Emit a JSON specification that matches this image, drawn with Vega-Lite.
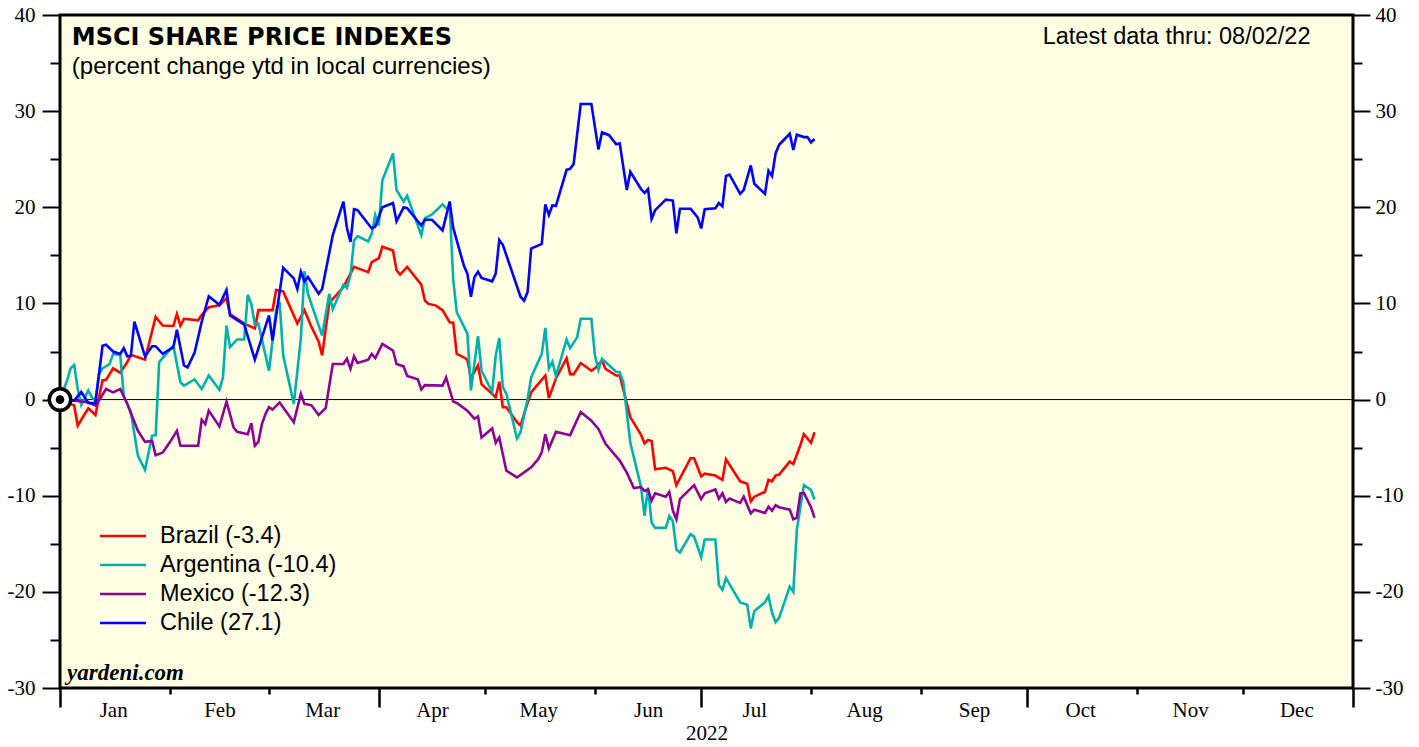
{
"$schema": "https://vega.github.io/schema/vega-lite/v6.json",
"width": 1293, "height": 673,
"autosize": {"type": "none"},
"padding": {"left": 60, "top": 15, "right": 66, "bottom": 59},
"background": "white",
"config": {"view": {"fill": "#FFFFE3", "stroke": "black", "strokeWidth": 3}, "font": "Liberation Sans", "axis": {"labelFlush": false, "labelOverlap": false, "labelBound": false, "grid": false, "domain": false}},
"datasets": {
"series": [
{"country":"Brazil (-3.4)","date":"2022-01-01","value":0},
{"country":"Brazil (-3.4)","date":"2022-01-05","value":-0.6},
{"country":"Brazil (-3.4)","date":"2022-01-06","value":-2.7},
{"country":"Brazil (-3.4)","date":"2022-01-09","value":-0.9},
{"country":"Brazil (-3.4)","date":"2022-01-11","value":-1.6},
{"country":"Brazil (-3.4)","date":"2022-01-13","value":2.0},
{"country":"Brazil (-3.4)","date":"2022-01-14","value":2.05},
{"country":"Brazil (-3.4)","date":"2022-01-16","value":3.25},
{"country":"Brazil (-3.4)","date":"2022-01-18","value":2.8},
{"country":"Brazil (-3.4)","date":"2022-01-20","value":3.9},
{"country":"Brazil (-3.4)","date":"2022-01-21","value":4.65},
{"country":"Brazil (-3.4)","date":"2022-01-25","value":4.15},
{"country":"Brazil (-3.4)","date":"2022-01-28","value":8.6},
{"country":"Brazil (-3.4)","date":"2022-01-30","value":7.7},
{"country":"Brazil (-3.4)","date":"2022-02-02","value":7.65},
{"country":"Brazil (-3.4)","date":"2022-02-03","value":8.9},
{"country":"Brazil (-3.4)","date":"2022-02-04","value":7.7},
{"country":"Brazil (-3.4)","date":"2022-02-05","value":8.4},
{"country":"Brazil (-3.4)","date":"2022-02-09","value":8.25},
{"country":"Brazil (-3.4)","date":"2022-02-10","value":8.8},
{"country":"Brazil (-3.4)","date":"2022-02-12","value":9.6},
{"country":"Brazil (-3.4)","date":"2022-02-15","value":9.8},
{"country":"Brazil (-3.4)","date":"2022-02-17","value":10.55},
{"country":"Brazil (-3.4)","date":"2022-02-18","value":8.9},
{"country":"Brazil (-3.4)","date":"2022-02-22","value":7.9},
{"country":"Brazil (-3.4)","date":"2022-02-25","value":7.4},
{"country":"Brazil (-3.4)","date":"2022-02-26","value":9.3},
{"country":"Brazil (-3.4)","date":"2022-03-02","value":9.3},
{"country":"Brazil (-3.4)","date":"2022-03-03","value":11.4},
{"country":"Brazil (-3.4)","date":"2022-03-05","value":11.25},
{"country":"Brazil (-3.4)","date":"2022-03-09","value":7.9},
{"country":"Brazil (-3.4)","date":"2022-03-11","value":9.3},
{"country":"Brazil (-3.4)","date":"2022-03-13","value":7.55},
{"country":"Brazil (-3.4)","date":"2022-03-15","value":6.05},
{"country":"Brazil (-3.4)","date":"2022-03-16","value":4.6},
{"country":"Brazil (-3.4)","date":"2022-03-18","value":10.05},
{"country":"Brazil (-3.4)","date":"2022-03-22","value":11.7},
{"country":"Brazil (-3.4)","date":"2022-03-23","value":12.4},
{"country":"Brazil (-3.4)","date":"2022-03-25","value":13.8},
{"country":"Brazil (-3.4)","date":"2022-03-29","value":13.25},
{"country":"Brazil (-3.4)","date":"2022-03-30","value":14.3},
{"country":"Brazil (-3.4)","date":"2022-04-01","value":14.7},
{"country":"Brazil (-3.4)","date":"2022-04-02","value":15.9},
{"country":"Brazil (-3.4)","date":"2022-04-05","value":15.5},
{"country":"Brazil (-3.4)","date":"2022-04-06","value":13.45},
{"country":"Brazil (-3.4)","date":"2022-04-07","value":13.0},
{"country":"Brazil (-3.4)","date":"2022-04-09","value":13.8},
{"country":"Brazil (-3.4)","date":"2022-04-13","value":11.95},
{"country":"Brazil (-3.4)","date":"2022-04-14","value":10.3},
{"country":"Brazil (-3.4)","date":"2022-04-15","value":9.95},
{"country":"Brazil (-3.4)","date":"2022-04-17","value":9.8},
{"country":"Brazil (-3.4)","date":"2022-04-19","value":9.3},
{"country":"Brazil (-3.4)","date":"2022-04-21","value":8.05},
{"country":"Brazil (-3.4)","date":"2022-04-22","value":8.0},
{"country":"Brazil (-3.4)","date":"2022-04-23","value":4.75},
{"country":"Brazil (-3.4)","date":"2022-04-25","value":4.4},
{"country":"Brazil (-3.4)","date":"2022-04-26","value":4.15},
{"country":"Brazil (-3.4)","date":"2022-04-27","value":2.2},
{"country":"Brazil (-3.4)","date":"2022-04-29","value":3.55},
{"country":"Brazil (-3.4)","date":"2022-04-30","value":1.6},
{"country":"Brazil (-3.4)","date":"2022-05-04","value":0.25},
{"country":"Brazil (-3.4)","date":"2022-05-05","value":1.85},
{"country":"Brazil (-3.4)","date":"2022-05-06","value":-0.8},
{"country":"Brazil (-3.4)","date":"2022-05-07","value":-0.8},
{"country":"Brazil (-3.4)","date":"2022-05-10","value":-2.35},
{"country":"Brazil (-3.4)","date":"2022-05-11","value":-2.7},
{"country":"Brazil (-3.4)","date":"2022-05-12","value":-1.5},
{"country":"Brazil (-3.4)","date":"2022-05-14","value":0.75},
{"country":"Brazil (-3.4)","date":"2022-05-18","value":2.5},
{"country":"Brazil (-3.4)","date":"2022-05-19","value":0.15},
{"country":"Brazil (-3.4)","date":"2022-05-21","value":2.2},
{"country":"Brazil (-3.4)","date":"2022-05-24","value":4.3},
{"country":"Brazil (-3.4)","date":"2022-05-25","value":2.65},
{"country":"Brazil (-3.4)","date":"2022-05-26","value":2.65},
{"country":"Brazil (-3.4)","date":"2022-05-28","value":3.8},
{"country":"Brazil (-3.4)","date":"2022-05-31","value":3.0},
{"country":"Brazil (-3.4)","date":"2022-06-01","value":3.25},
{"country":"Brazil (-3.4)","date":"2022-06-03","value":4.05},
{"country":"Brazil (-3.4)","date":"2022-06-04","value":3.2},
{"country":"Brazil (-3.4)","date":"2022-06-07","value":2.5},
{"country":"Brazil (-3.4)","date":"2022-06-08","value":2.5},
{"country":"Brazil (-3.4)","date":"2022-06-11","value":-1.85},
{"country":"Brazil (-3.4)","date":"2022-06-14","value":-3.65},
{"country":"Brazil (-3.4)","date":"2022-06-15","value":-4.55},
{"country":"Brazil (-3.4)","date":"2022-06-16","value":-4.2},
{"country":"Brazil (-3.4)","date":"2022-06-17","value":-4.3},
{"country":"Brazil (-3.4)","date":"2022-06-18","value":-7.25},
{"country":"Brazil (-3.4)","date":"2022-06-21","value":-7.1},
{"country":"Brazil (-3.4)","date":"2022-06-23","value":-7.45},
{"country":"Brazil (-3.4)","date":"2022-06-24","value":-8.9},
{"country":"Brazil (-3.4)","date":"2022-06-28","value":-6.1},
{"country":"Brazil (-3.4)","date":"2022-06-29","value":-6.1},
{"country":"Brazil (-3.4)","date":"2022-07-01","value":-8.0},
{"country":"Brazil (-3.4)","date":"2022-07-02","value":-7.7},
{"country":"Brazil (-3.4)","date":"2022-07-05","value":-7.9},
{"country":"Brazil (-3.4)","date":"2022-07-07","value":-8.35},
{"country":"Brazil (-3.4)","date":"2022-07-08","value":-6.2},
{"country":"Brazil (-3.4)","date":"2022-07-12","value":-8.5},
{"country":"Brazil (-3.4)","date":"2022-07-14","value":-8.75},
{"country":"Brazil (-3.4)","date":"2022-07-15","value":-10.6},
{"country":"Brazil (-3.4)","date":"2022-07-16","value":-10.1},
{"country":"Brazil (-3.4)","date":"2022-07-19","value":-9.6},
{"country":"Brazil (-3.4)","date":"2022-07-20","value":-8.35},
{"country":"Brazil (-3.4)","date":"2022-07-21","value":-8.5},
{"country":"Brazil (-3.4)","date":"2022-07-22","value":-7.9},
{"country":"Brazil (-3.4)","date":"2022-07-23","value":-7.8},
{"country":"Brazil (-3.4)","date":"2022-07-26","value":-6.45},
{"country":"Brazil (-3.4)","date":"2022-07-27","value":-6.7},
{"country":"Brazil (-3.4)","date":"2022-07-29","value":-4.75},
{"country":"Brazil (-3.4)","date":"2022-07-30","value":-3.6},
{"country":"Brazil (-3.4)","date":"2022-08-01","value":-4.5},
{"country":"Brazil (-3.4)","date":"2022-08-02","value":-3.4},
{"country":"Argentina (-10.4)","date":"2022-01-01","value":0},
{"country":"Argentina (-10.4)","date":"2022-01-03","value":2.0},
{"country":"Argentina (-10.4)","date":"2022-01-04","value":3.25},
{"country":"Argentina (-10.4)","date":"2022-01-05","value":3.6},
{"country":"Argentina (-10.4)","date":"2022-01-06","value":1.1},
{"country":"Argentina (-10.4)","date":"2022-01-07","value":-0.55},
{"country":"Argentina (-10.4)","date":"2022-01-09","value":0.95},
{"country":"Argentina (-10.4)","date":"2022-01-10","value":0.25},
{"country":"Argentina (-10.4)","date":"2022-01-11","value":-0.1},
{"country":"Argentina (-10.4)","date":"2022-01-12","value":2.65},
{"country":"Argentina (-10.4)","date":"2022-01-13","value":3.25},
{"country":"Argentina (-10.4)","date":"2022-01-15","value":3.7},
{"country":"Argentina (-10.4)","date":"2022-01-16","value":4.75},
{"country":"Argentina (-10.4)","date":"2022-01-18","value":4.65},
{"country":"Argentina (-10.4)","date":"2022-01-19","value":0.4},
{"country":"Argentina (-10.4)","date":"2022-01-21","value":-1.3},
{"country":"Argentina (-10.4)","date":"2022-01-23","value":-5.85},
{"country":"Argentina (-10.4)","date":"2022-01-25","value":-7.3},
{"country":"Argentina (-10.4)","date":"2022-01-27","value":-3.75},
{"country":"Argentina (-10.4)","date":"2022-01-28","value":-3.7},
{"country":"Argentina (-10.4)","date":"2022-01-29","value":3.9},
{"country":"Argentina (-10.4)","date":"2022-02-02","value":5.6},
{"country":"Argentina (-10.4)","date":"2022-02-04","value":1.8},
{"country":"Argentina (-10.4)","date":"2022-02-05","value":1.45},
{"country":"Argentina (-10.4)","date":"2022-02-08","value":2.1},
{"country":"Argentina (-10.4)","date":"2022-02-10","value":1.1},
{"country":"Argentina (-10.4)","date":"2022-02-12","value":2.5},
{"country":"Argentina (-10.4)","date":"2022-02-15","value":1.0},
{"country":"Argentina (-10.4)","date":"2022-02-16","value":2.3},
{"country":"Argentina (-10.4)","date":"2022-02-17","value":7.7},
{"country":"Argentina (-10.4)","date":"2022-02-18","value":5.45},
{"country":"Argentina (-10.4)","date":"2022-02-20","value":6.25},
{"country":"Argentina (-10.4)","date":"2022-02-22","value":6.25},
{"country":"Argentina (-10.4)","date":"2022-02-23","value":10.9},
{"country":"Argentina (-10.4)","date":"2022-02-24","value":9.95},
{"country":"Argentina (-10.4)","date":"2022-02-25","value":7.8},
{"country":"Argentina (-10.4)","date":"2022-02-26","value":7.9},
{"country":"Argentina (-10.4)","date":"2022-03-01","value":3.0},
{"country":"Argentina (-10.4)","date":"2022-03-03","value":9.3},
{"country":"Argentina (-10.4)","date":"2022-03-04","value":10.15},
{"country":"Argentina (-10.4)","date":"2022-03-05","value":4.6},
{"country":"Argentina (-10.4)","date":"2022-03-08","value":-0.45},
{"country":"Argentina (-10.4)","date":"2022-03-10","value":6.4},
{"country":"Argentina (-10.4)","date":"2022-03-11","value":13.35},
{"country":"Argentina (-10.4)","date":"2022-03-12","value":11.0},
{"country":"Argentina (-10.4)","date":"2022-03-16","value":6.65},
{"country":"Argentina (-10.4)","date":"2022-03-18","value":11.0},
{"country":"Argentina (-10.4)","date":"2022-03-19","value":9.4},
{"country":"Argentina (-10.4)","date":"2022-03-22","value":11.95},
{"country":"Argentina (-10.4)","date":"2022-03-23","value":11.6},
{"country":"Argentina (-10.4)","date":"2022-03-24","value":12.9},
{"country":"Argentina (-10.4)","date":"2022-03-25","value":16.55},
{"country":"Argentina (-10.4)","date":"2022-03-26","value":17.0},
{"country":"Argentina (-10.4)","date":"2022-03-29","value":16.45},
{"country":"Argentina (-10.4)","date":"2022-03-30","value":17.25},
{"country":"Argentina (-10.4)","date":"2022-03-31","value":19.2},
{"country":"Argentina (-10.4)","date":"2022-04-01","value":18.1},
{"country":"Argentina (-10.4)","date":"2022-04-02","value":22.8},
{"country":"Argentina (-10.4)","date":"2022-04-05","value":25.6},
{"country":"Argentina (-10.4)","date":"2022-04-06","value":21.8},
{"country":"Argentina (-10.4)","date":"2022-04-08","value":20.6},
{"country":"Argentina (-10.4)","date":"2022-04-09","value":21.2},
{"country":"Argentina (-10.4)","date":"2022-04-13","value":17.1},
{"country":"Argentina (-10.4)","date":"2022-04-14","value":18.85},
{"country":"Argentina (-10.4)","date":"2022-04-16","value":19.25},
{"country":"Argentina (-10.4)","date":"2022-04-19","value":20.3},
{"country":"Argentina (-10.4)","date":"2022-04-20","value":19.9},
{"country":"Argentina (-10.4)","date":"2022-04-21","value":20.05},
{"country":"Argentina (-10.4)","date":"2022-04-22","value":12.5},
{"country":"Argentina (-10.4)","date":"2022-04-23","value":9.1},
{"country":"Argentina (-10.4)","date":"2022-04-26","value":6.85},
{"country":"Argentina (-10.4)","date":"2022-04-27","value":0.95},
{"country":"Argentina (-10.4)","date":"2022-04-29","value":6.6},
{"country":"Argentina (-10.4)","date":"2022-04-30","value":3.0},
{"country":"Argentina (-10.4)","date":"2022-05-03","value":0.8},
{"country":"Argentina (-10.4)","date":"2022-05-04","value":4.6},
{"country":"Argentina (-10.4)","date":"2022-05-05","value":6.4},
{"country":"Argentina (-10.4)","date":"2022-05-06","value":1.3},
{"country":"Argentina (-10.4)","date":"2022-05-07","value":0.6},
{"country":"Argentina (-10.4)","date":"2022-05-10","value":-4.05},
{"country":"Argentina (-10.4)","date":"2022-05-11","value":-3.4},
{"country":"Argentina (-10.4)","date":"2022-05-13","value":0.05},
{"country":"Argentina (-10.4)","date":"2022-05-14","value":2.3},
{"country":"Argentina (-10.4)","date":"2022-05-17","value":4.75},
{"country":"Argentina (-10.4)","date":"2022-05-18","value":7.45},
{"country":"Argentina (-10.4)","date":"2022-05-19","value":3.25},
{"country":"Argentina (-10.4)","date":"2022-05-20","value":3.95},
{"country":"Argentina (-10.4)","date":"2022-05-21","value":2.45},
{"country":"Argentina (-10.4)","date":"2022-05-24","value":6.25},
{"country":"Argentina (-10.4)","date":"2022-05-25","value":5.35},
{"country":"Argentina (-10.4)","date":"2022-05-27","value":6.5},
{"country":"Argentina (-10.4)","date":"2022-05-28","value":8.4},
{"country":"Argentina (-10.4)","date":"2022-05-31","value":8.4},
{"country":"Argentina (-10.4)","date":"2022-06-01","value":4.6},
{"country":"Argentina (-10.4)","date":"2022-06-02","value":3.1},
{"country":"Argentina (-10.4)","date":"2022-06-03","value":4.25},
{"country":"Argentina (-10.4)","date":"2022-06-07","value":2.9},
{"country":"Argentina (-10.4)","date":"2022-06-08","value":2.85},
{"country":"Argentina (-10.4)","date":"2022-06-09","value":1.85},
{"country":"Argentina (-10.4)","date":"2022-06-11","value":-4.5},
{"country":"Argentina (-10.4)","date":"2022-06-14","value":-9.05},
{"country":"Argentina (-10.4)","date":"2022-06-15","value":-12.1},
{"country":"Argentina (-10.4)","date":"2022-06-16","value":-9.15},
{"country":"Argentina (-10.4)","date":"2022-06-17","value":-12.8},
{"country":"Argentina (-10.4)","date":"2022-06-18","value":-13.35},
{"country":"Argentina (-10.4)","date":"2022-06-21","value":-13.35},
{"country":"Argentina (-10.4)","date":"2022-06-22","value":-12.1},
{"country":"Argentina (-10.4)","date":"2022-06-23","value":-12.65},
{"country":"Argentina (-10.4)","date":"2022-06-24","value":-15.6},
{"country":"Argentina (-10.4)","date":"2022-06-25","value":-15.9},
{"country":"Argentina (-10.4)","date":"2022-06-28","value":-14.0},
{"country":"Argentina (-10.4)","date":"2022-06-29","value":-14.25},
{"country":"Argentina (-10.4)","date":"2022-07-01","value":-16.4},
{"country":"Argentina (-10.4)","date":"2022-07-02","value":-14.55},
{"country":"Argentina (-10.4)","date":"2022-07-05","value":-14.55},
{"country":"Argentina (-10.4)","date":"2022-07-06","value":-19.3},
{"country":"Argentina (-10.4)","date":"2022-07-07","value":-19.8},
{"country":"Argentina (-10.4)","date":"2022-07-08","value":-18.55},
{"country":"Argentina (-10.4)","date":"2022-07-12","value":-21.1},
{"country":"Argentina (-10.4)","date":"2022-07-14","value":-21.35},
{"country":"Argentina (-10.4)","date":"2022-07-15","value":-23.8},
{"country":"Argentina (-10.4)","date":"2022-07-16","value":-22.0},
{"country":"Argentina (-10.4)","date":"2022-07-19","value":-21.1},
{"country":"Argentina (-10.4)","date":"2022-07-20","value":-20.45},
{"country":"Argentina (-10.4)","date":"2022-07-21","value":-22.15},
{"country":"Argentina (-10.4)","date":"2022-07-22","value":-23.15},
{"country":"Argentina (-10.4)","date":"2022-07-23","value":-22.7},
{"country":"Argentina (-10.4)","date":"2022-07-26","value":-19.45},
{"country":"Argentina (-10.4)","date":"2022-07-27","value":-20.0},
{"country":"Argentina (-10.4)","date":"2022-07-28","value":-13.55},
{"country":"Argentina (-10.4)","date":"2022-07-30","value":-8.9},
{"country":"Argentina (-10.4)","date":"2022-08-01","value":-9.4},
{"country":"Argentina (-10.4)","date":"2022-08-02","value":-10.4},
{"country":"Mexico (-12.3)","date":"2022-01-01","value":0},
{"country":"Mexico (-12.3)","date":"2022-01-05","value":-0.1},
{"country":"Mexico (-12.3)","date":"2022-01-09","value":-0.3},
{"country":"Mexico (-12.3)","date":"2022-01-11","value":-0.6},
{"country":"Mexico (-12.3)","date":"2022-01-12","value":-0.1},
{"country":"Mexico (-12.3)","date":"2022-01-14","value":1.1},
{"country":"Mexico (-12.3)","date":"2022-01-16","value":0.75},
{"country":"Mexico (-12.3)","date":"2022-01-18","value":1.1},
{"country":"Mexico (-12.3)","date":"2022-01-20","value":-0.45},
{"country":"Mexico (-12.3)","date":"2022-01-21","value":-1.4},
{"country":"Mexico (-12.3)","date":"2022-01-23","value":-3.25},
{"country":"Mexico (-12.3)","date":"2022-01-25","value":-4.4},
{"country":"Mexico (-12.3)","date":"2022-01-27","value":-4.3},
{"country":"Mexico (-12.3)","date":"2022-01-28","value":-5.8},
{"country":"Mexico (-12.3)","date":"2022-01-30","value":-5.5},
{"country":"Mexico (-12.3)","date":"2022-02-01","value":-4.45},
{"country":"Mexico (-12.3)","date":"2022-02-03","value":-3.25},
{"country":"Mexico (-12.3)","date":"2022-02-04","value":-4.8},
{"country":"Mexico (-12.3)","date":"2022-02-09","value":-4.8},
{"country":"Mexico (-12.3)","date":"2022-02-10","value":-2.1},
{"country":"Mexico (-12.3)","date":"2022-02-11","value":-2.55},
{"country":"Mexico (-12.3)","date":"2022-02-12","value":-1.15},
{"country":"Mexico (-12.3)","date":"2022-02-15","value":-2.8},
{"country":"Mexico (-12.3)","date":"2022-02-17","value":-0.2},
{"country":"Mexico (-12.3)","date":"2022-02-19","value":-2.9},
{"country":"Mexico (-12.3)","date":"2022-02-20","value":-3.35},
{"country":"Mexico (-12.3)","date":"2022-02-23","value":-3.6},
{"country":"Mexico (-12.3)","date":"2022-02-24","value":-2.45},
{"country":"Mexico (-12.3)","date":"2022-02-25","value":-4.8},
{"country":"Mexico (-12.3)","date":"2022-02-26","value":-4.4},
{"country":"Mexico (-12.3)","date":"2022-02-27","value":-2.55},
{"country":"Mexico (-12.3)","date":"2022-02-28","value":-1.5},
{"country":"Mexico (-12.3)","date":"2022-03-01","value":-0.8},
{"country":"Mexico (-12.3)","date":"2022-03-02","value":-1.05},
{"country":"Mexico (-12.3)","date":"2022-03-04","value":-0.3},
{"country":"Mexico (-12.3)","date":"2022-03-08","value":-2.35},
{"country":"Mexico (-12.3)","date":"2022-03-10","value":0.6},
{"country":"Mexico (-12.3)","date":"2022-03-11","value":-0.45},
{"country":"Mexico (-12.3)","date":"2022-03-13","value":-0.6},
{"country":"Mexico (-12.3)","date":"2022-03-15","value":-1.6},
{"country":"Mexico (-12.3)","date":"2022-03-17","value":-0.9},
{"country":"Mexico (-12.3)","date":"2022-03-19","value":3.7},
{"country":"Mexico (-12.3)","date":"2022-03-22","value":3.7},
{"country":"Mexico (-12.3)","date":"2022-03-23","value":4.25},
{"country":"Mexico (-12.3)","date":"2022-03-24","value":3.2},
{"country":"Mexico (-12.3)","date":"2022-03-25","value":4.5},
{"country":"Mexico (-12.3)","date":"2022-03-26","value":3.8},
{"country":"Mexico (-12.3)","date":"2022-03-29","value":4.15},
{"country":"Mexico (-12.3)","date":"2022-03-30","value":4.75},
{"country":"Mexico (-12.3)","date":"2022-03-31","value":4.3},
{"country":"Mexico (-12.3)","date":"2022-04-02","value":5.8},
{"country":"Mexico (-12.3)","date":"2022-04-05","value":5.1},
{"country":"Mexico (-12.3)","date":"2022-04-06","value":3.7},
{"country":"Mexico (-12.3)","date":"2022-04-08","value":3.45},
{"country":"Mexico (-12.3)","date":"2022-04-09","value":2.45},
{"country":"Mexico (-12.3)","date":"2022-04-12","value":2.1},
{"country":"Mexico (-12.3)","date":"2022-04-13","value":1.05},
{"country":"Mexico (-12.3)","date":"2022-04-14","value":1.5},
{"country":"Mexico (-12.3)","date":"2022-04-19","value":1.45},
{"country":"Mexico (-12.3)","date":"2022-04-20","value":2.3},
{"country":"Mexico (-12.3)","date":"2022-04-22","value":-0.2},
{"country":"Mexico (-12.3)","date":"2022-04-23","value":-0.35},
{"country":"Mexico (-12.3)","date":"2022-04-26","value":-1.15},
{"country":"Mexico (-12.3)","date":"2022-04-28","value":-2.0},
{"country":"Mexico (-12.3)","date":"2022-04-29","value":-1.75},
{"country":"Mexico (-12.3)","date":"2022-04-30","value":-3.95},
{"country":"Mexico (-12.3)","date":"2022-05-03","value":-3.0},
{"country":"Mexico (-12.3)","date":"2022-05-04","value":-4.5},
{"country":"Mexico (-12.3)","date":"2022-05-05","value":-3.95},
{"country":"Mexico (-12.3)","date":"2022-05-07","value":-7.4},
{"country":"Mexico (-12.3)","date":"2022-05-10","value":-8.1},
{"country":"Mexico (-12.3)","date":"2022-05-14","value":-7.05},
{"country":"Mexico (-12.3)","date":"2022-05-16","value":-6.2},
{"country":"Mexico (-12.3)","date":"2022-05-17","value":-5.45},
{"country":"Mexico (-12.3)","date":"2022-05-18","value":-3.6},
{"country":"Mexico (-12.3)","date":"2022-05-19","value":-5.1},
{"country":"Mexico (-12.3)","date":"2022-05-21","value":-3.35},
{"country":"Mexico (-12.3)","date":"2022-05-25","value":-3.7},
{"country":"Mexico (-12.3)","date":"2022-05-28","value":-1.3},
{"country":"Mexico (-12.3)","date":"2022-05-31","value":-2.2},
{"country":"Mexico (-12.3)","date":"2022-06-02","value":-3.05},
{"country":"Mexico (-12.3)","date":"2022-06-04","value":-4.6},
{"country":"Mexico (-12.3)","date":"2022-06-08","value":-6.35},
{"country":"Mexico (-12.3)","date":"2022-06-10","value":-7.6},
{"country":"Mexico (-12.3)","date":"2022-06-12","value":-9.2},
{"country":"Mexico (-12.3)","date":"2022-06-14","value":-9.1},
{"country":"Mexico (-12.3)","date":"2022-06-15","value":-9.5},
{"country":"Mexico (-12.3)","date":"2022-06-16","value":-9.35},
{"country":"Mexico (-12.3)","date":"2022-06-17","value":-10.5},
{"country":"Mexico (-12.3)","date":"2022-06-18","value":-9.75},
{"country":"Mexico (-12.3)","date":"2022-06-21","value":-10.1},
{"country":"Mexico (-12.3)","date":"2022-06-22","value":-9.6},
{"country":"Mexico (-12.3)","date":"2022-06-23","value":-11.55},
{"country":"Mexico (-12.3)","date":"2022-06-24","value":-12.45},
{"country":"Mexico (-12.3)","date":"2022-06-25","value":-10.35},
{"country":"Mexico (-12.3)","date":"2022-06-29","value":-8.9},
{"country":"Mexico (-12.3)","date":"2022-07-01","value":-10.35},
{"country":"Mexico (-12.3)","date":"2022-07-02","value":-9.75},
{"country":"Mexico (-12.3)","date":"2022-07-05","value":-9.35},
{"country":"Mexico (-12.3)","date":"2022-07-06","value":-10.3},
{"country":"Mexico (-12.3)","date":"2022-07-07","value":-9.75},
{"country":"Mexico (-12.3)","date":"2022-07-08","value":-10.65},
{"country":"Mexico (-12.3)","date":"2022-07-09","value":-10.3},
{"country":"Mexico (-12.3)","date":"2022-07-12","value":-10.75},
{"country":"Mexico (-12.3)","date":"2022-07-13","value":-10.1},
{"country":"Mexico (-12.3)","date":"2022-07-15","value":-11.85},
{"country":"Mexico (-12.3)","date":"2022-07-16","value":-11.45},
{"country":"Mexico (-12.3)","date":"2022-07-19","value":-11.8},
{"country":"Mexico (-12.3)","date":"2022-07-20","value":-11.15},
{"country":"Mexico (-12.3)","date":"2022-07-21","value":-11.55},
{"country":"Mexico (-12.3)","date":"2022-07-22","value":-11.0},
{"country":"Mexico (-12.3)","date":"2022-07-23","value":-11.2},
{"country":"Mexico (-12.3)","date":"2022-07-26","value":-11.45},
{"country":"Mexico (-12.3)","date":"2022-07-27","value":-12.45},
{"country":"Mexico (-12.3)","date":"2022-07-28","value":-12.3},
{"country":"Mexico (-12.3)","date":"2022-07-29","value":-9.75},
{"country":"Mexico (-12.3)","date":"2022-07-30","value":-9.7},
{"country":"Mexico (-12.3)","date":"2022-08-01","value":-11.2},
{"country":"Mexico (-12.3)","date":"2022-08-02","value":-12.3},
{"country":"Chile (27.1)","date":"2022-01-01","value":0},
{"country":"Chile (27.1)","date":"2022-01-05","value":-0.1},
{"country":"Chile (27.1)","date":"2022-01-07","value":0.8},
{"country":"Chile (27.1)","date":"2022-01-09","value":-0.35},
{"country":"Chile (27.1)","date":"2022-01-11","value":-0.35},
{"country":"Chile (27.1)","date":"2022-01-13","value":5.6},
{"country":"Chile (27.1)","date":"2022-01-14","value":5.7},
{"country":"Chile (27.1)","date":"2022-01-16","value":5.0},
{"country":"Chile (27.1)","date":"2022-01-18","value":4.75},
{"country":"Chile (27.1)","date":"2022-01-19","value":5.35},
{"country":"Chile (27.1)","date":"2022-01-20","value":4.5},
{"country":"Chile (27.1)","date":"2022-01-21","value":4.55},
{"country":"Chile (27.1)","date":"2022-01-22","value":8.1},
{"country":"Chile (27.1)","date":"2022-01-25","value":4.5},
{"country":"Chile (27.1)","date":"2022-01-27","value":5.55},
{"country":"Chile (27.1)","date":"2022-01-28","value":5.55},
{"country":"Chile (27.1)","date":"2022-01-30","value":4.75},
{"country":"Chile (27.1)","date":"2022-02-02","value":5.45},
{"country":"Chile (27.1)","date":"2022-02-03","value":7.25},
{"country":"Chile (27.1)","date":"2022-02-05","value":3.55},
{"country":"Chile (27.1)","date":"2022-02-06","value":3.35},
{"country":"Chile (27.1)","date":"2022-02-08","value":4.9},
{"country":"Chile (27.1)","date":"2022-02-10","value":8.1},
{"country":"Chile (27.1)","date":"2022-02-12","value":10.75},
{"country":"Chile (27.1)","date":"2022-02-15","value":9.85},
{"country":"Chile (27.1)","date":"2022-02-17","value":11.4},
{"country":"Chile (27.1)","date":"2022-02-18","value":8.75},
{"country":"Chile (27.1)","date":"2022-02-22","value":7.8},
{"country":"Chile (27.1)","date":"2022-02-25","value":4.15},
{"country":"Chile (27.1)","date":"2022-03-01","value":8.75},
{"country":"Chile (27.1)","date":"2022-03-02","value":6.15},
{"country":"Chile (27.1)","date":"2022-03-05","value":13.7},
{"country":"Chile (27.1)","date":"2022-03-08","value":12.6},
{"country":"Chile (27.1)","date":"2022-03-09","value":11.5},
{"country":"Chile (27.1)","date":"2022-03-10","value":13.3},
{"country":"Chile (27.1)","date":"2022-03-11","value":12.3},
{"country":"Chile (27.1)","date":"2022-03-12","value":12.75},
{"country":"Chile (27.1)","date":"2022-03-15","value":11.0},
{"country":"Chile (27.1)","date":"2022-03-16","value":11.5},
{"country":"Chile (27.1)","date":"2022-03-19","value":17.1},
{"country":"Chile (27.1)","date":"2022-03-22","value":20.6},
{"country":"Chile (27.1)","date":"2022-03-23","value":17.85},
{"country":"Chile (27.1)","date":"2022-03-24","value":16.4},
{"country":"Chile (27.1)","date":"2022-03-25","value":19.8},
{"country":"Chile (27.1)","date":"2022-03-26","value":19.7},
{"country":"Chile (27.1)","date":"2022-03-30","value":17.8},
{"country":"Chile (27.1)","date":"2022-03-31","value":18.0},
{"country":"Chile (27.1)","date":"2022-04-02","value":20.0},
{"country":"Chile (27.1)","date":"2022-04-05","value":20.45},
{"country":"Chile (27.1)","date":"2022-04-06","value":18.55},
{"country":"Chile (27.1)","date":"2022-04-08","value":20.0},
{"country":"Chile (27.1)","date":"2022-04-09","value":19.9},
{"country":"Chile (27.1)","date":"2022-04-13","value":18.1},
{"country":"Chile (27.1)","date":"2022-04-14","value":18.7},
{"country":"Chile (27.1)","date":"2022-04-16","value":18.7},
{"country":"Chile (27.1)","date":"2022-04-19","value":17.6},
{"country":"Chile (27.1)","date":"2022-04-21","value":20.6},
{"country":"Chile (27.1)","date":"2022-04-22","value":17.85},
{"country":"Chile (27.1)","date":"2022-04-25","value":13.95},
{"country":"Chile (27.1)","date":"2022-04-26","value":13.1},
{"country":"Chile (27.1)","date":"2022-04-27","value":10.7},
{"country":"Chile (27.1)","date":"2022-04-28","value":12.75},
{"country":"Chile (27.1)","date":"2022-04-29","value":13.3},
{"country":"Chile (27.1)","date":"2022-04-30","value":12.65},
{"country":"Chile (27.1)","date":"2022-05-03","value":12.3},
{"country":"Chile (27.1)","date":"2022-05-04","value":13.1},
{"country":"Chile (27.1)","date":"2022-05-05","value":16.6},
{"country":"Chile (27.1)","date":"2022-05-06","value":16.1},
{"country":"Chile (27.1)","date":"2022-05-11","value":10.7},
{"country":"Chile (27.1)","date":"2022-05-12","value":10.3},
{"country":"Chile (27.1)","date":"2022-05-13","value":11.2},
{"country":"Chile (27.1)","date":"2022-05-14","value":15.7},
{"country":"Chile (27.1)","date":"2022-05-17","value":16.2},
{"country":"Chile (27.1)","date":"2022-05-18","value":20.3},
{"country":"Chile (27.1)","date":"2022-05-19","value":19.2},
{"country":"Chile (27.1)","date":"2022-05-20","value":20.2},
{"country":"Chile (27.1)","date":"2022-05-21","value":20.15},
{"country":"Chile (27.1)","date":"2022-05-24","value":23.9},
{"country":"Chile (27.1)","date":"2022-05-25","value":24.0},
{"country":"Chile (27.1)","date":"2022-05-26","value":24.5},
{"country":"Chile (27.1)","date":"2022-05-28","value":30.75},
{"country":"Chile (27.1)","date":"2022-05-31","value":30.75},
{"country":"Chile (27.1)","date":"2022-06-02","value":26.0},
{"country":"Chile (27.1)","date":"2022-06-03","value":27.8},
{"country":"Chile (27.1)","date":"2022-06-05","value":27.5},
{"country":"Chile (27.1)","date":"2022-06-07","value":26.55},
{"country":"Chile (27.1)","date":"2022-06-08","value":26.65},
{"country":"Chile (27.1)","date":"2022-06-10","value":21.8},
{"country":"Chile (27.1)","date":"2022-06-11","value":23.7},
{"country":"Chile (27.1)","date":"2022-06-14","value":21.9},
{"country":"Chile (27.1)","date":"2022-06-15","value":21.5},
{"country":"Chile (27.1)","date":"2022-06-16","value":21.9},
{"country":"Chile (27.1)","date":"2022-06-17","value":18.8},
{"country":"Chile (27.1)","date":"2022-06-18","value":19.7},
{"country":"Chile (27.1)","date":"2022-06-21","value":20.8},
{"country":"Chile (27.1)","date":"2022-06-23","value":20.7},
{"country":"Chile (27.1)","date":"2022-06-24","value":17.3},
{"country":"Chile (27.1)","date":"2022-06-25","value":19.85},
{"country":"Chile (27.1)","date":"2022-06-28","value":19.85},
{"country":"Chile (27.1)","date":"2022-06-30","value":18.95},
{"country":"Chile (27.1)","date":"2022-07-01","value":17.8},
{"country":"Chile (27.1)","date":"2022-07-02","value":19.8},
{"country":"Chile (27.1)","date":"2022-07-05","value":19.9},
{"country":"Chile (27.1)","date":"2022-07-06","value":20.45},
{"country":"Chile (27.1)","date":"2022-07-07","value":20.1},
{"country":"Chile (27.1)","date":"2022-07-08","value":23.25},
{"country":"Chile (27.1)","date":"2022-07-09","value":23.4},
{"country":"Chile (27.1)","date":"2022-07-12","value":21.4},
{"country":"Chile (27.1)","date":"2022-07-13","value":21.8},
{"country":"Chile (27.1)","date":"2022-07-15","value":24.35},
{"country":"Chile (27.1)","date":"2022-07-16","value":22.45},
{"country":"Chile (27.1)","date":"2022-07-19","value":21.4},
{"country":"Chile (27.1)","date":"2022-07-20","value":23.8},
{"country":"Chile (27.1)","date":"2022-07-21","value":23.25},
{"country":"Chile (27.1)","date":"2022-07-22","value":25.6},
{"country":"Chile (27.1)","date":"2022-07-23","value":26.5},
{"country":"Chile (27.1)","date":"2022-07-26","value":27.65},
{"country":"Chile (27.1)","date":"2022-07-27","value":25.95},
{"country":"Chile (27.1)","date":"2022-07-28","value":27.55},
{"country":"Chile (27.1)","date":"2022-07-30","value":27.3},
{"country":"Chile (27.1)","date":"2022-07-31","value":27.3},
{"country":"Chile (27.1)","date":"2022-08-01","value":26.75},
{"country":"Chile (27.1)","date":"2022-08-02","value":27.1}
]
},
"layer": [
{
"data": {"values": [{}]},
"mark": {"type": "rule", "color": "black", "strokeWidth": 1},
"encoding": {
"y": {"datum": 0, "type": "quantitative", "scale": {"domain": [-30, 40], "nice": false, "zero": false},
"axis": {"orient": "right", "values": [-30,-25,-20,-15,-10,-5,0,5,10,15,20,25,30,35,40],
"labelExpr": "datum.value % 10 === 0 ? '' + datum.value : ''",
"tickSize": {"condition": {"test": "datum.value % 10 === 0", "value": 17}, "value": 9},
"tickWidth": 2, "tickColor": "black", "labelFont": "Liberation Serif", "labelFontSize": 21, "labelColor": "black", "labelPadding": 5, "title": null}}
}
},
{
"data": {"name": "series"},
"mark": {"type": "line", "strokeWidth": 2.6},
"encoding": {
"x": {"field": "date", "type": "temporal",
"scale": {"type": "utc", "domain": [{"year": 2022, "month": 1, "date": 1, "utc": true}, {"year": 2023, "month": 1, "date": 1, "utc": true}]},
"axis": {"orient": "bottom",
"values": [
{"year":2022,"month":1,"date":1,"utc":true},{"year":2022,"month":1,"date":16,"utc":true},
{"year":2022,"month":2,"date":1,"utc":true},{"year":2022,"month":2,"date":15,"utc":true},
{"year":2022,"month":3,"date":1,"utc":true},{"year":2022,"month":3,"date":16,"utc":true},
{"year":2022,"month":4,"date":1,"utc":true},{"year":2022,"month":4,"date":16,"utc":true},
{"year":2022,"month":5,"date":1,"utc":true},{"year":2022,"month":5,"date":16,"utc":true},
{"year":2022,"month":6,"date":1,"utc":true},{"year":2022,"month":6,"date":16,"utc":true},
{"year":2022,"month":7,"date":1,"utc":true},{"year":2022,"month":7,"date":16,"utc":true},
{"year":2022,"month":8,"date":1,"utc":true},{"year":2022,"month":8,"date":16,"utc":true},
{"year":2022,"month":9,"date":1,"utc":true},{"year":2022,"month":9,"date":16,"utc":true},
{"year":2022,"month":10,"date":1,"utc":true},{"year":2022,"month":10,"date":16,"utc":true},
{"year":2022,"month":11,"date":1,"utc":true},{"year":2022,"month":11,"date":16,"utc":true},
{"year":2022,"month":12,"date":1,"utc":true},{"year":2022,"month":12,"date":16,"utc":true},
{"year":2023,"month":1,"date":1,"utc":true}],
"labelExpr": "utcdate(datum.value) > 1 ? utcFormat(datum.value, '%b') : ''",
"tickSize": {"condition": [{"test": "utcdate(datum.value) > 1", "value": 0}, {"test": "utcmonth(datum.value) % 3 === 0", "value": 19}], "value": 6},
"tickOpacity": {"condition": {"test": "utcdate(datum.value) > 1", "value": 0}, "value": 1},
"tickWidth": 2.5, "tickColor": "black",
"labelFont": "Liberation Serif", "labelFontSize": 21, "labelColor": "black", "labelBaseline": "alphabetic", "labelPadding": 28,
"title": "2022", "titleFont": "Liberation Serif", "titleFontSize": 21, "titleFontWeight": "normal", "titleColor": "black", "titleBaseline": "alphabetic", "titlePadding": 0}
},
"y": {"field": "value", "type": "quantitative", "scale": {"domain": [-30, 40], "nice": false, "zero": false},
"axis": {"orient": "left", "values": [-30,-25,-20,-15,-10,-5,0,5,10,15,20,25,30,35,40],
"labelExpr": "datum.value % 10 === 0 ? '' + datum.value : ''",
"tickSize": {"condition": {"test": "datum.value % 10 === 0", "value": 18}, "value": 10},
"tickWidth": 2, "tickColor": "black", "labelFont": "Liberation Serif", "labelFontSize": 21, "labelColor": "black", "labelPadding": 7, "title": null}},
"color": {"field": "country", "type": "nominal",
"scale": {"domain": ["Brazil (-3.4)", "Argentina (-10.4)", "Mexico (-12.3)", "Chile (27.1)"], "range": ["#FF0000", "#00B0B0", "#8C0096", "#0000FF"]},
"legend": {"orient": "none", "legendX": 50, "legendY": 508, "title": null, "symbolType": "M-2,0H2", "symbolSize": 529, "symbolStrokeWidth": 2.5, "symbolFillColor": "transparent", "labelFont": "Liberation Sans", "labelFontSize": 23.5, "labelColor": "black", "labelOffset": 24, "labelLimit": 0, "rowPadding": 4, "padding": 0}}
}
},
{
"data": {"values": [{}]},
"mark": {"type": "point", "shape": "circle", "filled": true, "fill": "white", "stroke": "black", "strokeWidth": 3.5, "size": 460, "opacity": 1},
"encoding": {
"x": {"datum": {"year": 2022, "month": 1, "date": 1, "utc": true}, "type": "temporal", "scale": {"type": "utc"}, "axis": null},
"y": {"datum": 0, "type": "quantitative", "scale": {"domain": [-30, 40], "nice": false, "zero": false}, "axis": null}
}
},
{
"data": {"values": [{}]},
"mark": {"type": "point", "shape": "circle", "filled": true, "color": "black", "size": 75, "opacity": 1},
"encoding": {
"x": {"datum": {"year": 2022, "month": 1, "date": 1, "utc": true}, "type": "temporal", "scale": {"type": "utc"}, "axis": null},
"y": {"datum": 0, "type": "quantitative", "scale": {"domain": [-30, 40], "nice": false, "zero": false}, "axis": null}
}
},
{
"data": {"values": [{}]},
"mark": {"type": "text", "text": "MSCI SHARE PRICE INDEXES", "font": "DejaVu Sans", "fontSize": 24, "fontWeight": "bold", "align": "left", "baseline": "alphabetic", "color": "black"},
"encoding": {
"x": {"datum": {"year": 2022, "month": 1, "date": 4, "hours": 8, "utc": true}, "type": "temporal", "scale": {"type": "utc"}, "axis": null},
"y": {"datum": 36.88, "type": "quantitative", "scale": {"domain": [-30, 40], "nice": false, "zero": false}, "axis": null}
}
},
{
"data": {"values": [{}]},
"mark": {"type": "text", "text": "(percent change ytd in local currencies)", "font": "Liberation Sans", "fontSize": 24, "align": "left", "baseline": "alphabetic", "color": "black"},
"encoding": {
"x": {"datum": {"year": 2022, "month": 1, "date": 4, "hours": 8, "utc": true}, "type": "temporal", "scale": {"type": "utc"}, "axis": null},
"y": {"datum": 33.9, "type": "quantitative", "scale": {"domain": [-30, 40], "nice": false, "zero": false}, "axis": null}
}
},
{
"data": {"values": [{}]},
"mark": {"type": "text", "text": "Latest data thru: 08/02/22", "font": "Liberation Sans", "fontSize": 23.5, "align": "right", "baseline": "alphabetic", "color": "black"},
"encoding": {
"x": {"datum": {"year": 2022, "month": 12, "date": 20, "utc": true}, "type": "temporal", "scale": {"type": "utc"}, "axis": null},
"y": {"datum": 37.0, "type": "quantitative", "scale": {"domain": [-30, 40], "nice": false, "zero": false}, "axis": null}
}
},
{
"data": {"values": [{}]},
"mark": {"type": "text", "text": "yardeni.com", "font": "Liberation Serif", "fontSize": 23, "fontWeight": "bold", "fontStyle": "italic", "align": "left", "baseline": "alphabetic", "color": "black"},
"encoding": {
"x": {"datum": {"year": 2022, "month": 1, "date": 3, "utc": true}, "type": "temporal", "scale": {"type": "utc"}, "axis": null},
"y": {"datum": -29.17, "type": "quantitative", "scale": {"domain": [-30, 40], "nice": false, "zero": false}, "axis": null}
}
}
],
"resolve": {"axis": {"x": "independent", "y": "independent"}}
}
